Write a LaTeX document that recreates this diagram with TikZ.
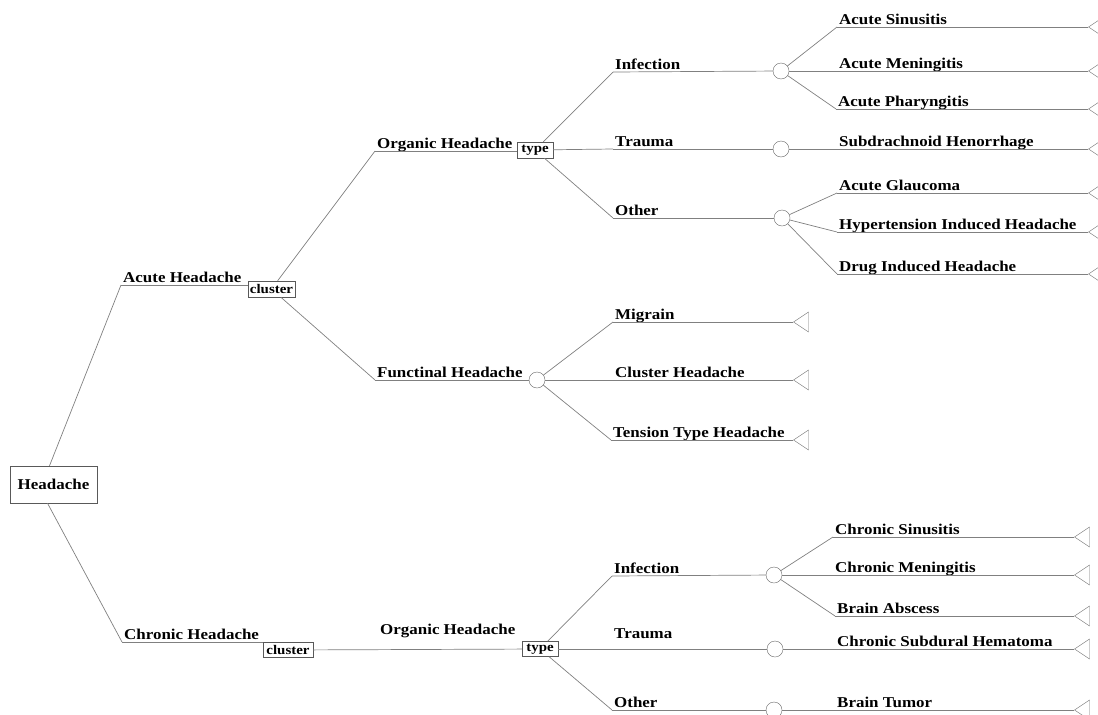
\documentclass[tikz,border=0pt]{standalone}
\usepackage{fontspec}
\setmainfont{Liberation Serif}[FakeStretch=1.13]
\usetikzlibrary{shapes.geometric}
\tikzset{every node/.style={inner sep=0pt},
  lbl/.style={font=\fontsize{15}{17}\selectfont\bfseries,anchor=base west,xshift=2pt,yshift=3pt},
  decbox/.style={draw=black!65,font=\fontsize{13.2}{15}\selectfont\bfseries,minimum height=16pt},
  chance/.style={circle,draw=black!60,minimum size=16pt},
  leaf/.style={isosceles triangle,isosceles triangle stretches,shape border rotate=180,
    draw=black!55,minimum width=20pt,minimum height=15pt,anchor=apex},
  edge/.style={draw=black!50,line width=0.7pt}}

\begin{document}
\begin{tikzpicture}[x=1pt,y=-1pt]
      \useasboundingbox (0,0) rectangle (1098,715);
      \clip (0,0) rectangle (1098,715);
      % root and first level
      \node[decbox,minimum width=87pt,minimum height=37pt,font=\fontsize{15}{17}\selectfont\bfseries] (root) at (53.5,484.5) {Headache};
      \coordinate (ah) at (121,285);
      \coordinate (ch) at (122,642);
      \node[lbl] (ahL) at (ah) {Acute Headache};
      \node[lbl] (chL) at (ch) {Chronic Headache};
      \node[decbox,minimum width=47pt] (cl1) at (271.5,289) {cluster};
      \node[decbox,minimum width=50pt,minimum height=15pt] (cl2) at (288,650) {cluster};
      % acute
      \coordinate (oh1) at (375,151);
      \coordinate (fh) at (375,380);
      \node[lbl] (oh1L) at (oh1) {Organic Headache};
      \node[lbl] (fhL) at (fh) {Functinal Headache};
      \node[decbox,minimum width=36pt] (t1) at (535,150) {type};
      \node[chance] (c4) at (537,380) {};
      \coordinate (in1) at (613,72);
      \coordinate (tr1) at (613,149);
      \coordinate (ot1) at (613,218);
      \node[lbl] (in1L) at (in1) {Infection};
      \node[lbl] (tr1L) at (tr1) {Trauma};
      \node[lbl] (ot1L) at (ot1) {Other};
      \node[chance] (c1) at (781,71) {};
      \node[chance] (c2) at (781,149) {};
      \node[chance] (c3) at (782,218) {};
      \coordinate (sinA) at (837,27);
      \coordinate (menA) at (837,71);
      \coordinate (phaA) at (836,109);
      \coordinate (sah) at (837,149);
      \coordinate (glc) at (837,193);
      \coordinate (hyp) at (837,232);
      \coordinate (drg) at (837,274);
      \node[lbl] (sinAL) at (sinA) {Acute Sinusitis};
      \node[lbl] (menAL) at (menA) {Acute Meningitis};
      \node[lbl] (phaAL) at (phaA) {Acute Pharyngitis};
      \node[lbl] (sahL) at (sah) {Subdrachnoid Henorrhage};
      \node[lbl] (glcL) at (glc) {Acute Glaucoma};
      \node[lbl] (hypL) at (hyp) {Hypertension Induced Headache};
      \node[lbl] (drgL) at (drg) {Drug Induced Headache};
      \foreach \n/\y in {sinA/27,menA/71,phaA/109,sah/149,glc/193,hyp/232,drg/274}
        \node[leaf] (\n T) at (1088,\y) {};
      \coordinate (mig) at (613,322);
      \coordinate (clh) at (613,380);
      \coordinate (tth) at (611,440);
      \node[lbl] (migL) at (mig) {Migrain};
      \node[lbl] (clhL) at (clh) {Cluster Headache};
      \node[lbl] (tthL) at (tth) {Tension Type Headache};
      \foreach \n/\y in {mig/322,clh/380,tth/440}
        \node[leaf] (\n T) at (793,\y) {};
      % chronic
      \coordinate (oh2) at (378,637);
      \node[lbl,xshift=0pt,yshift=0pt] (oh2L) at (oh2) {Organic Headache};
      \node[decbox,minimum width=36pt,minimum height=15pt] (t2) at (540,649) {type};
      \coordinate (in2) at (612,576);
      \coordinate (tr2) at (612,649);
      \coordinate (ot2) at (612,710);
      \node[lbl] (in2L) at (in2) {Infection};
      \node[lbl,yshift=8pt] (tr2L) at (tr2) {Trauma};
      \node[lbl] (ot2L) at (ot2) {Other};
      \node[chance] (c5) at (774,575) {};
      \node[chance] (c6) at (775,649) {};
      \node[chance] (c7) at (774,710) {};
      \coordinate (sinC) at (833,537);
      \coordinate (menC) at (833,575);
      \coordinate (abs) at (835,616);
      \coordinate (sdh) at (835,649);
      \coordinate (tum) at (835,710);
      \node[lbl] (sinCL) at (sinC) {Chronic Sinusitis};
      \node[lbl] (menCL) at (menC) {Chronic Meningitis};
      \node[lbl] (absL) at (abs) {Brain Abscess};
      \node[lbl] (sdhL) at (sdh) {Chronic Subdural Hematoma};
      \node[lbl] (tumL) at (tum) {Brain Tumor};
      \foreach \n/\y in {sinC/537,menC/575,abs/616,sdh/649,tum/710}
        \node[leaf] (\n T) at (1074,\y) {};

\draw[edge] ([xshift=-4pt]root.north) -- (ah);
\draw[edge] ([xshift=-6pt]root.south) -- (ch);
\draw[edge] (ah) -- (ah -| cl1.west);
\draw[edge] (ch) -- (ch -| cl2.west);
\draw[edge] (oh1) -- (oh1 -| t1.west);
\draw[edge] (cl2) -- (t2);
\foreach \a/\b in {cl1/oh1,cl1/fh,fh/c4,t1/in1,t1/tr1,t1/ot1,in1/c1,tr1/c2,ot1/c3,
    c1/sinA,c1/menA,c1/phaA,c2/sah,c3/glc,c3/hyp,c3/drg,
    c4/mig,c4/clh,c4/tth,t2/in2,t2/tr2,t2/ot2,in2/c5,tr2/c6,ot2/c7,
    c5/sinC,c5/menC,c5/abs,c6/sdh,c7/tum}
  \draw[edge] (\a) -- (\b);
\foreach \n in {sinA,menA,phaA,sah,glc,hyp,drg,mig,clh,tth,sinC,menC,abs,sdh,tum}
  \draw[edge] (\n) -- (\n T.apex);
    \end{tikzpicture}
\end{document}
